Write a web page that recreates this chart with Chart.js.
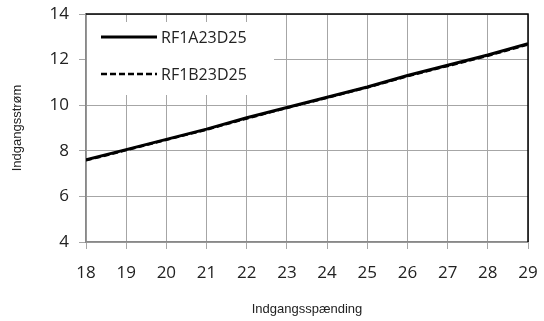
<!DOCTYPE html>
<html>
<head>
<meta charset="utf-8">
<script src="https://cdn.jsdelivr.net/npm/chart.js@4"></script>
<style>
  html, body { margin: 0; padding: 0; background: #fff; }
  #wrap { width: 544px; height: 321px; }
</style>
</head>
<body>
<div id="wrap"><canvas id="myChart"></canvas></div>
<script>
const voltages = [18, 19, 20, 21, 22, 23, 24, 25, 26, 27, 28, 29];
const currentA = [7.6, 8.05, 8.5, 8.95, 9.45, 9.9, 10.35, 10.8, 11.3, 11.75, 12.2, 12.7];
const currentB = [7.58, 8.03, 8.48, 8.93, 9.42, 9.88, 10.33, 10.78, 11.27, 11.72, 12.17, 12.66];
const seriesNames = ['RF1A23D25', 'RF1B23D25'];
const xTitle = 'Indgangsspænding';
const yTitle = 'Indgangsstrøm';

const tickFont = { family: 'Open Sans', size: 17 };
const titleFont = { family: 'Liberation Sans', size: 13 };

// black frame on top/right plus legend box inside the plot
const framePlugin = {
  id: 'frame',
  afterDatasetsDraw(chart) {
    const { ctx, chartArea: a } = chart;
    ctx.save();
    ctx.strokeStyle = '#000';
    ctx.lineWidth = 1.5;
    ctx.beginPath();
    ctx.moveTo(a.left, a.top);
    ctx.lineTo(a.right, a.top);
    ctx.lineTo(a.right, a.bottom);
    ctx.stroke();
    ctx.restore();
  },
  afterDraw(chart) {
    const { ctx, chartArea: a } = chart;
    ctx.save();
    ctx.fillStyle = '#fff';
    ctx.fillRect(a.left + 1, a.top + 8, 187, 73);
    chart.data.datasets.forEach((ds, i) => {
      const y = a.top + 23 + i * 37;
      ctx.strokeStyle = '#000';
      ctx.lineWidth = ds.borderWidth;
      ctx.setLineDash(ds.borderDash || []);
      ctx.beginPath();
      ctx.moveTo(a.left + 15, y);
      ctx.lineTo(a.left + 71, y);
      ctx.stroke();
      ctx.setLineDash([]);
      ctx.fillStyle = '#222';
      ctx.font = '16px "Open Sans"';
      ctx.textBaseline = 'middle';
      ctx.fillText(ds.label, a.left + 75, y + 1);
    });
    ctx.restore();
  }
};

const ctx = document.getElementById('myChart').getContext('2d');
const myChart = new Chart(ctx, {
  type: 'line',
  data: {
    labels: voltages,
    datasets: [{
      label: seriesNames[0],
      data: voltages.map((v, i) => ({ x: v, y: currentA[i] })),
      borderColor: '#000',
      borderWidth: 3,
      pointRadius: 0,
      fill: false
    }, {
      label: seriesNames[1],
      data: voltages.map((v, i) => ({ x: v, y: currentB[i] })),
      borderColor: '#000',
      borderWidth: 2.5,
      borderDash: [6, 3],
      pointRadius: 0,
      fill: false
    }]
  },
  options: {
    responsive: true,
    maintainAspectRatio: false,
    animation: false,
    layout: { padding: { top: 14, right: 16, left: 0, bottom: 0 } },
    plugins: {
      legend: { display: false },
      tooltip: { enabled: false }
    },
    scales: {
      x: {
        type: 'linear',
        min: 18,
        max: 29,
        afterFit: (s) => { s.height = 79; s.paddingLeft = 0; s.paddingRight = 0; },
        ticks: { stepSize: 1, color: '#222', font: tickFont, padding: 14 },
        grid: { color: '#a6a6a6', lineWidth: 1, tickLength: 7 },
        border: { color: '#888', width: 1.5 },
        title: { display: true, text: xTitle, color: '#222', font: titleFont, padding: { top: 0, bottom: 4 } }
      },
      y: {
        min: 4,
        max: 14,
        afterFit: (s) => { s.width = 86; s.paddingTop = 0; s.paddingBottom = 0; },
        ticks: { stepSize: 2, color: '#222', font: tickFont, padding: 10 },
        grid: { color: '#a6a6a6', lineWidth: 1, tickLength: 7 },
        border: { color: '#888', width: 1.5 },
        title: { display: true, text: yTitle, color: '#222', font: titleFont, padding: { top: 10, bottom: 0 } }
      }
    }
  },
  plugins: [framePlugin]
});
</script>
</body>
</html>
